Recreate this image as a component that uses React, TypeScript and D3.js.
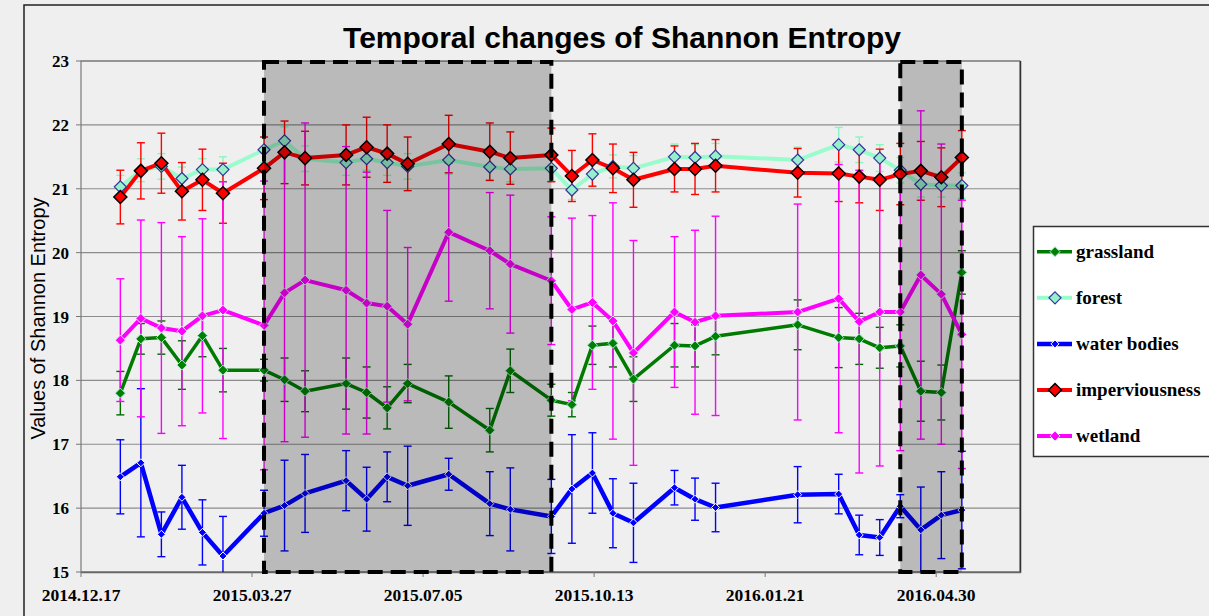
import React from "react";
import * as d3 from "d3";

const WIDTH = 1209;
const HEIGHT = 616;

const dates = [
  "2015-01-09", "2015-01-21", "2015-02-02", "2015-02-14", "2015-02-26", "2015-03-10",
  "2015-04-03", "2015-04-15", "2015-04-27", "2015-05-21", "2015-06-02", "2015-06-14",
  "2015-06-26", "2015-07-20", "2015-08-13", "2015-08-25", "2015-09-18", "2015-09-30",
  "2015-10-12", "2015-10-24", "2015-11-05", "2015-11-29", "2015-12-11", "2015-12-23",
  "2016-02-09", "2016-03-04", "2016-03-16", "2016-03-28", "2016-04-09", "2016-04-21",
  "2016-05-03", "2016-05-15",
];

const grassland = [
  17.8, 18.65, 18.67, 18.24, 18.7, 18.16, 18.16, 18.01, 17.83, 17.95, 17.81, 17.57,
  17.95, 17.66, 17.22, 18.15, 17.69, 17.62, 18.55, 18.58, 18.02, 18.55, 18.54, 18.69,
  18.87, 18.67, 18.65, 18.51, 18.54, 17.83, 17.81, 19.69,
];
const grasslandErr = [
  0.34, 0.24, 0.26, 0.38, 0.33, 0.34, 0.17, 0.34, 0.32, 0.4, 0.4, 0.33, 0.3, 0.41, 0.34,
  0.34, 0.25, 0.19, 0.3, 0.37, 0.35, 0.34, 0.33, 0.29, 0.39, 0.47, 0.4, 0.32, 0.33, 0.47,
  0.43, 0.34,
];

const forest = [
  21.03, 21.29, 21.35, 21.16, 21.3, 21.3, 21.61, 21.75, 21.47, 21.41, 21.47, 21.41,
  21.35, 21.45, 21.34, 21.31, 21.32, 20.98, 21.23, 21.35, 21.32, 21.5, 21.49, 21.51,
  21.45, 21.69, 21.61, 21.48, 21.29, 21.07, 21.05, 21.05,
];
const forestErr = [
  0.18, 0.18, 0.2, 0.18, 0.17, 0.2, 0.2, 0.22, 0.2, 0.2, 0.18, 0.2, 0.2, 0.22, 0.2, 0.2,
  0.2, 0.15, 0.2, 0.18, 0.2, 0.2, 0.2, 0.2, 0.2, 0.27, 0.2, 0.21, 0.2, 0.2, 0.18, 0.2,
];

const water = [
  16.49, 16.71, 15.59, 16.17, 15.62, 15.25, 15.92, 16.04, 16.23, 16.43, 16.14, 16.49,
  16.35, 16.53, 16.07, 15.98, 15.87, 16.3, 16.55, 15.92, 15.77, 16.32, 16.14, 16.01,
  16.21, 16.22, 15.58, 15.54, 16.03, 15.66, 15.89, 15.97,
];
const waterErr = [
  0.58, 1.16, 0.35, 0.5, 0.51, 0.62, 0.36, 0.71, 0.61, 0.47, 0.5, 0.39, 0.62, 0.25, 0.5,
  0.65, 0.58, 0.85, 0.63, 0.54, 0.62, 0.27, 0.33, 0.38, 0.44, 0.31, 0.31, 0.28, 0.18,
  0.67, 0.68, 0.92,
];

const imperviousness = [
  20.87, 21.28, 21.4, 20.96, 21.14, 20.93, 21.32, 21.57, 21.48, 21.53, 21.65, 21.55,
  21.39, 21.7, 21.58, 21.48, 21.53, 21.2, 21.45, 21.32, 21.14, 21.31, 21.31, 21.36,
  21.25, 21.24, 21.19, 21.14, 21.23, 21.28, 21.18, 21.49,
];
const imperviousnessErr = [
  0.42, 0.44, 0.47, 0.45, 0.48, 0.47, 0.49, 0.49, 0.42, 0.47, 0.47, 0.45, 0.42, 0.45,
  0.45, 0.41, 0.42, 0.4, 0.41, 0.38, 0.43, 0.36, 0.4, 0.41, 0.38, 0.44, 0.41, 0.48, 0.48,
  0.46, 0.46, 0.42,
];

const wetland = [
  18.63, 18.97, 18.82, 18.77, 19.01, 19.1, 18.86, 19.37, 19.57, 19.41, 19.21, 19.16,
  18.88, 20.32, 20.03, 19.82, 19.56, 19.11, 19.22, 18.93, 18.43, 19.07, 18.91, 19.01,
  19.07, 19.28, 18.92, 19.07, 19.07, 19.65, 19.35, 18.72,
];
const wetlandErr = [
  0.96, 1.54, 1.65, 1.48, 1.52, 2.01, 2.26, 2.33, 2.46, 2.25, 2.05, 1.5, 1.2, 1.08, 0.91,
  1.08, 1.0, 1.43, 1.36, 1.85, 1.76, 1.18, 1.44, 1.56, 1.69, 2.1, 2.37, 2.41, 2.17, 2.57,
  2.35, 2.1,
];

const xTickDates = ["2014-12-17", "2015-03-27", "2015-07-05", "2015-10-13", "2016-01-21", "2016-04-30"];
const xTickLabels = ["2014.12.17", "2015.03.27", "2015.07.05", "2015.10.13", "2016.01.21", "2016.04.30"];
const yTicks = [15, 16, 17, 18, 19, 20, 21, 22, 23];
const shadedPeriods = [
  ["2015-04-03", "2015-09-18"],
  ["2016-04-09", "2016-05-15"],
];

const parse = d3.utcParse("%Y-%m-%d");

type Series = {
  name: string;
  values: number[];
  err: number[];
  line: string;
  lineWidth: number;
  errColor: string;
  fill: string;
  stroke: string;
  strokeWidth: number;
  size: number;
};

const series: Series[] = [
  { name: "grassland", values: grassland, err: grasslandErr, line: "#007a00", lineWidth: 3.5, errColor: "#006a00", fill: "#008000", stroke: "#a8e8d0", strokeWidth: 1, size: 5 },
  { name: "forest", values: forest, err: forestErr, line: "#99fccc", lineWidth: 4, errColor: "#8af5c0", fill: "#96f0cc", stroke: "#34349a", strokeWidth: 1.2, size: 6 },
  { name: "water bodies", values: water, err: waterErr, line: "#0000ff", lineWidth: 4.5, errColor: "#0000ff", fill: "#0000ff", stroke: "#ffffff", strokeWidth: 1, size: 4 },
  { name: "imperviousness", values: imperviousness, err: imperviousnessErr, line: "#ff0000", lineWidth: 4, errColor: "#ff0000", fill: "#ff0000", stroke: "#000000", strokeWidth: 1.5, size: 6.5 },
  { name: "wetland", values: wetland, err: wetlandErr, line: "#ff00ff", lineWidth: 4, errColor: "#ff00ff", fill: "#ff00ff", stroke: "#d8f0f0", strokeWidth: 1, size: 5 },
];

const diamond = (x: number, y: number, r: number) =>
  `M${x},${y - r}L${x + r},${y}L${x},${y + r}L${x - r},${y}Z`;

export default function App() {
  const left = 81;
  const right = 1020;
  const top = 61;
  const bottom = 572;

  const start = parse("2014-12-17")!;
  const end = d3.utcDay.offset(start, 549);
  const x = d3.scaleUtc().domain([start, end]).range([left, right]);
  const y = d3.scaleLinear().domain([15, 23]).range([bottom, top]);
  const xs = dates.map((d) => x(parse(d)!));

  const line = d3
    .line<number>()
    .x((_, i) => xs[i])
    .y((v) => y(v));

  const serif = "'Liberation Serif', 'Times New Roman', serif";
  const sans = "'Liberation Sans', Arial, sans-serif";

  return (
    <div style={{ position: "absolute", left: 0, top: 0 }}>
      <svg width={WIDTH} height={HEIGHT} style={{ display: "block", background: "#efefef" }}>
        <defs>
          <clipPath id="plot">
            <rect x={left} y={top} width={right - left} height={bottom - top} />
          </clipPath>
        </defs>
        {/* outer frame */}
        <rect x={24} y={5} width={WIDTH + 20} height={HEIGHT + 20} fill="#efefef" stroke="#222" strokeWidth={1.5} />

        <text x={622} y={48} textAnchor="middle" fontFamily={sans} fontWeight="bold" fontSize={30} fill="#000">
          Temporal changes of Shannon Entropy
        </text>

        {/* grid */}
        {yTicks.map((t) => (
          <g key={t}>
            <line x1={left} x2={right} y1={y(t)} y2={y(t)} stroke="#8c8c8c" strokeWidth={1.2} />
            <line x1={left - 5} x2={left} y1={y(t)} y2={y(t)} stroke="#777" strokeWidth={1} />
            <text x={69} y={y(t) + 6} textAnchor="end" fontFamily={serif} fontWeight="bold" fontSize={17}>
              {t}
            </text>
          </g>
        ))}
        <rect x={left} y={top} width={right - left} height={bottom - top} fill="none" stroke="#7a7a7a" strokeWidth={1.2} />
        <line x1={right + 0.5} x2={right + 0.5} y1={top} y2={bottom + 1} stroke="#333" strokeWidth={1.5} />
        <line x1={left} x2={right + 1} y1={bottom + 0.5} y2={bottom + 0.5} stroke="#666" strokeWidth={1.5} />

        {xTickDates.map((d, i) => {
          const tx = x(parse(d)!);
          return (
            <g key={d}>
              <line x1={tx} x2={tx} y1={bottom} y2={bottom + 5} stroke="#777" />
              <text x={tx} y={601} textAnchor="middle" fontFamily={serif} fontWeight="bold" fontSize={17.5}>
                {xTickLabels[i]}
              </text>
            </g>
          );
        })}

        <text
          transform={`translate(45,${(top + bottom) / 2 + 2}) rotate(-90)`}
          textAnchor="middle"
          fontFamily={sans}
          fontSize={20}
        >
          Values of Shannon Entropy
        </text>

        <g clipPath="url(#plot)">
          {/* error bars */}
          {series.map((s) => (
            <g key={s.name + "err"} stroke={s.errColor} strokeWidth={1.4}>
              {s.values.map((v, i) => {
                const y1 = y(v + s.err[i]);
                const y2 = y(v - s.err[i]);
                return (
                  <g key={i}>
                    <line x1={xs[i]} x2={xs[i]} y1={y1} y2={y2} />
                    <line x1={xs[i] - 4} x2={xs[i] + 4} y1={y1} y2={y1} />
                    <line x1={xs[i] - 4} x2={xs[i] + 4} y1={y2} y2={y2} />
                  </g>
                );
              })}
            </g>
          ))}
          {/* lines */}
          {series.map((s) => (
            <path
              key={s.name + "line"}
              d={line(s.values) || ""}
              fill="none"
              stroke={s.line}
              strokeWidth={s.lineWidth}
              strokeLinejoin="round"
            />
          ))}
          {/* markers */}
          {series.map((s) => (
            <g key={s.name + "mk"}>
              {s.values.map((v, i) => (
                <path key={i} d={diamond(xs[i], y(v), s.size)} fill={s.fill} stroke={s.stroke} strokeWidth={s.strokeWidth} />
              ))}
            </g>
          ))}
        </g>

        {/* shaded periods */}
        {shadedPeriods.map(([a, b]) => {
          const x0 = x(parse(a)!);
          const x1 = x(parse(b)!);
          return (
            <g key={a}>
              <rect x={x0} y={top} width={x1 - x0} height={bottom - top} fill="#000" fillOpacity={0.22} />
              <rect
                x={x0}
                y={top + 1}
                width={x1 - x0}
                height={bottom - top - 1}
                fill="none"
                stroke="#000"
                strokeWidth={4}
                strokeDasharray="15,8"
              />
            </g>
          );
        })}

        {/* legend */}
        <rect x={1033.5} y={226.5} width={200} height={230} fill="#fff" stroke="#333" strokeWidth={1.5} />
        {series.map((s, i) => {
          const ly = 251.7 + i * 46.1;
          return (
            <g key={s.name + "lg"}>
              <line x1={1037} x2={1072} y1={ly} y2={ly} stroke={s.line} strokeWidth={s.lineWidth} />
              <path d={diamond(1055, ly, s.size)} fill={s.fill} stroke={s.stroke} strokeWidth={s.strokeWidth} />
              <text x={1076} y={ly + 6} fontFamily={serif} fontWeight="bold" fontSize={19}>
                {s.name}
              </text>
            </g>
          );
        })}
      </svg>
    </div>
  );
}
